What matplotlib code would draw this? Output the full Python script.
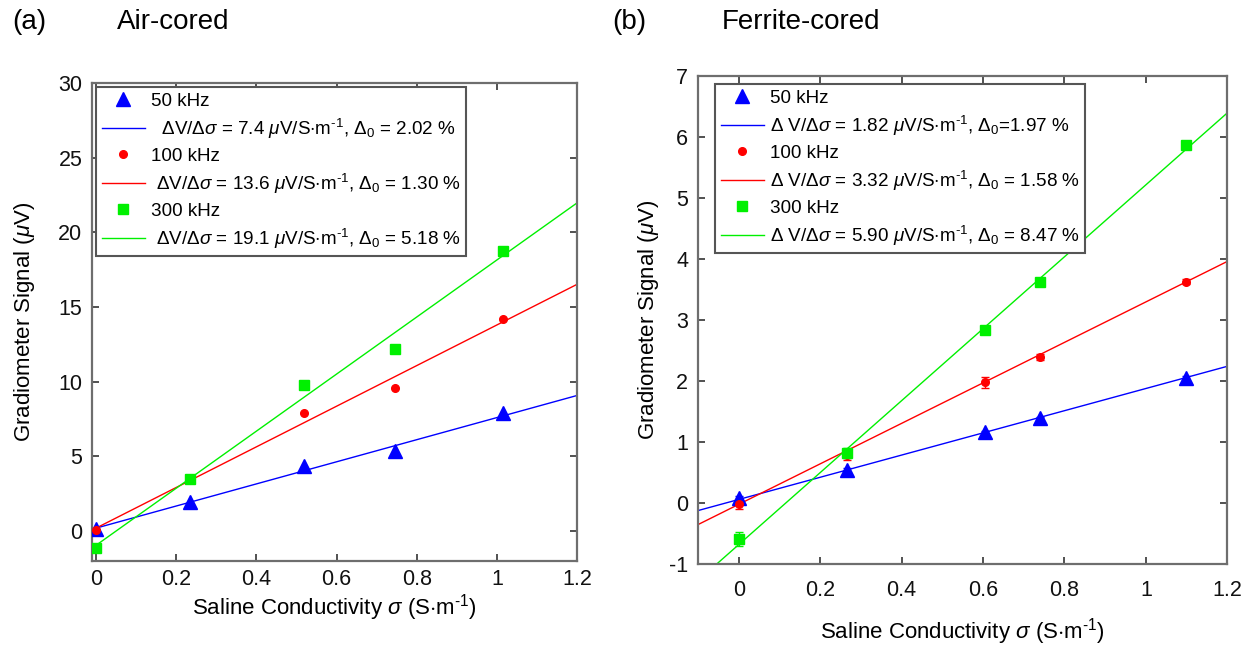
import matplotlib
matplotlib.use('Agg')
import matplotlib.pyplot as plt
import numpy as np

plt.rcParams['font.family'] = ['Liberation Sans', 'DejaVu Sans']
plt.rcParams['mathtext.fontset'] = 'custom'
plt.rcParams['mathtext.rm'] = 'Liberation Sans'
plt.rcParams['mathtext.it'] = 'Liberation Sans:italic'
plt.rcParams['mathtext.bf'] = 'Liberation Sans:bold'

freq_labels = ['50 kHz', '100 kHz', '300 kHz']
colors = ['#0000ff', '#ff0000', '#00f000']
markers = ['^', 'o', 's']

# Panel (a): air-cored
air_sigma = [0.0, 0.235, 0.52, 0.745, 1.015]
air_50 = [0.15, 1.95, 4.35, 5.35, 7.9]
air_100 = [0.05, 3.45, 7.9, 9.55, 14.2]
air_300 = [-1.1, 3.5, 9.8, 12.2, 18.75]
air_slopes = [7.4, 13.6, 19.1]
air_intercepts = [0.2, 0.2, -0.95]
air_fit_labels = [
    r'  $\Delta$V/$\Delta\mathit{\sigma}$ = 7.4 $\mathit{\mu}$V/S$\cdot$m$^{\text{-}1}$, $\Delta_0$ = 2.02 %',
    r' $\Delta$V/$\Delta\mathit{\sigma}$ = 13.6 $\mathit{\mu}$V/S$\cdot$m$^{\text{-}1}$, $\Delta_0$ = 1.30 %',
    r' $\Delta$V/$\Delta\mathit{\sigma}$ = 19.1 $\mathit{\mu}$V/S$\cdot$m$^{\text{-}1}$, $\Delta_0$ = 5.18 %',
]

# Panel (b): ferrite-cored
fer_sigma = [0.0, 0.265, 0.605, 0.74, 1.098]
fer_50 = [0.07, 0.53, 1.15, 1.38, 2.05]
fer_100 = [-0.02, 0.78, 1.97, 2.38, 3.62]
fer_300 = [-0.6, 0.81, 2.83, 3.62, 5.86]
fer_50_err = [0.03, 0.03, 0.03, 0.03, 0.03]
fer_100_err = [0.08, 0.08, 0.09, 0.05, 0.04]
fer_300_err = [0.12, 0.08, 0.05, 0.06, 0.05]
fer_slopes = [1.82, 3.32, 5.90]
fer_intercepts = [0.05, -0.03, -0.69]
fer_fit_labels = [
    r'$\Delta$ V/$\Delta\mathit{\sigma}$ = 1.82 $\mathit{\mu}$V/S$\cdot$m$^{\text{-}1}$, $\Delta_0$=1.97 %',
    r'$\Delta$ V/$\Delta\mathit{\sigma}$ = 3.32 $\mathit{\mu}$V/S$\cdot$m$^{\text{-}1}$, $\Delta_0$ = 1.58 %',
    r'$\Delta$ V/$\Delta\mathit{\sigma}$ = 5.90 $\mathit{\mu}$V/S$\cdot$m$^{\text{-}1}$, $\Delta_0$ = 8.47 %',
]

W, H = 1252, 648
fig = plt.figure(figsize=(W / 100, H / 100), dpi=100)

spine_col = '#6e6e6e'
tick_fs = 15.5
label_fs = 16
leg_fs = 13.6


def style_axes(ax, xlim, ylim, yticks, xlabelpad, ylabelpad, xpad):
    ax.set_xlim(*xlim)
    ax.set_ylim(*ylim)
    ax.set_xticks([0, 0.2, 0.4, 0.6, 0.8, 1.0, 1.2])
    ax.set_xticklabels(['0', '0.2', '0.4', '0.6', '0.8', '1', '1.2'])
    ax.set_yticks(yticks)
    ax.set_yticklabels([str(t) for t in yticks])
    for s in ax.spines.values():
        s.set_color(spine_col)
        s.set_linewidth(1.6)
    ax.tick_params(direction='in', top=True, right=True, length=5, width=1.2,
                   color='#333333', labelsize=tick_fs, labelcolor='#111111')
    ax.tick_params(axis='y', pad=7)
    ax.tick_params(axis='x', pad=xpad)
    ax.set_xlabel(r'Saline Conductivity $\mathit{\sigma}$ (S$\cdot$m$^{\text{-}1}$)',
                  fontsize=label_fs, labelpad=xlabelpad)
    ax.set_ylabel(r'Gradiometer Signal ($\mathit{\mu}$V)', fontsize=label_fs, labelpad=ylabelpad)


def draw_panel(ax, sigma, series, errs, slopes, intercepts, fit_labels, xlim, msizes):
    handles = []
    labels = []
    xl = np.array(xlim)
    for i in range(3):
        if errs is None:
            pts, = ax.plot(sigma, series[i], linestyle='none', marker=markers[i],
                           color=colors[i], markersize=msizes[i], zorder=3)
        else:
            eb = ax.errorbar(sigma, series[i], yerr=errs[i], linestyle='none', marker=markers[i],
                             color=colors[i], markersize=msizes[i], capsize=3,
                             elinewidth=1, capthick=1, zorder=3)
            pts = eb.lines[0]
        ln, = ax.plot(xl, slopes[i] * xl + intercepts[i], color=colors[i], lw=1.0, zorder=2)
        handles += [pts, ln]
        labels += [freq_labels[i], fit_labels[i]]
    return handles, labels


def add_legend(ax, handles, labels, x, y):
    leg = ax.legend(handles, labels, loc='upper left', bbox_to_anchor=(x / W, 1 - y / H),
                    bbox_transform=fig.transFigure, borderaxespad=0, fontsize=leg_fs,
                    fancybox=False, framealpha=1, edgecolor='#555555', handlelength=2.3,
                    handletextpad=0.3, labelspacing=0.36, borderpad=0.3, numpoints=1)
    leg.get_frame().set_linewidth(1.5)
    return leg


# Panel (a)
axa = fig.add_axes([92 / W, 1 - 561 / H, 485 / W, (561 - 83) / H])
style_axes(axa, (-0.01, 1.2), (-2, 30), [0, 5, 10, 15, 20, 25, 30],
           xlabelpad=1, ylabelpad=15, xpad=6)
ha, la = draw_panel(axa, air_sigma, [air_50, air_100, air_300], None,
                    air_slopes, air_intercepts, air_fit_labels, (0.0, 1.2), [10, 5.5, 7])
add_legend(axa, ha, la, 96, 87)

# Panel (b)
axb = fig.add_axes([698 / W, 1 - 563.5 / H, 529.3 / W, (563.5 - 75.7) / H])
xb = (-0.1, 1.2)
style_axes(axb, xb, (-1, 7), [-1, 0, 1, 2, 3, 4, 5, 6, 7],
           xlabelpad=11, ylabelpad=6, xpad=12)
hb, lb = draw_panel(axb, fer_sigma, [fer_50, fer_100, fer_300],
                    [fer_50_err, fer_100_err, fer_300_err],
                    fer_slopes, fer_intercepts, fer_fit_labels, xb, [10, 5.5, 7])
add_legend(axb, hb, lb, 715, 84)

# Panel titles
fig.text(12 / W, 1 - 22 / H, '(a)', fontsize=20, va='center', ha='left')
fig.text(117 / W, 1 - 22 / H, 'Air-cored', fontsize=20, va='center', ha='left')
fig.text(612 / W, 1 - 22 / H, '(b)', fontsize=20, va='center', ha='left')
fig.text(722 / W, 1 - 22 / H, 'Ferrite-cored', fontsize=20, va='center', ha='left')

fig.savefig('out.png', dpi=100)
